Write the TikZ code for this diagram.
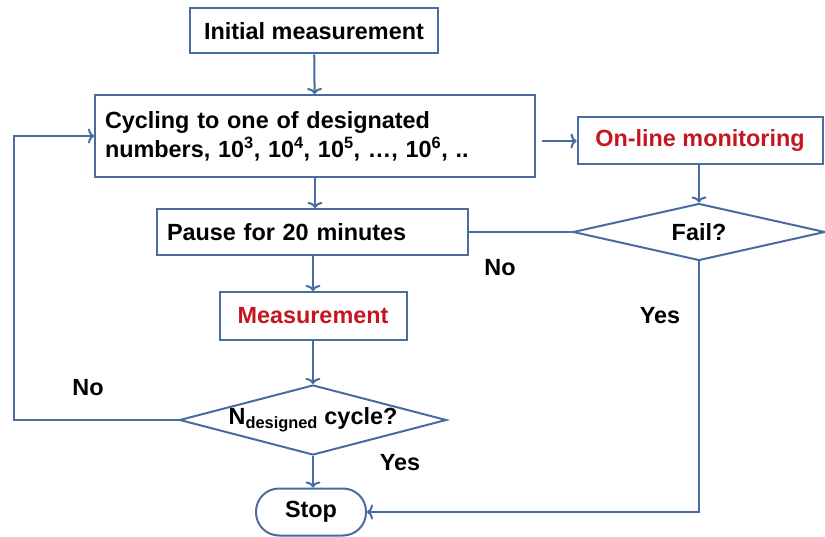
\documentclass[tikz,border=0pt]{standalone}
\usepackage{fontspec}
\setmainfont{Liberation Sans}
\usetikzlibrary{positioning}
\usetikzlibrary{shapes.geometric}
\usetikzlibrary{arrows.meta}
\definecolor{flowblue}{RGB}{72,108,160}
\definecolor{flowred}{RGB}{196,22,32}

\begin{document}
\begin{tikzpicture} [
        x=1pt, y=-1pt, line width=2pt,
        every node/.style={font=\fontsize{23.4}{29}\selectfont\bfseries},
        box/.style={draw=flowblue, rectangle, inner sep=0pt},
        decide/.style={draw=flowblue, diamond, inner sep=0pt, aspect=4},
        flow/.style={draw=flowblue, -{To[length=6pt,width=15pt]}},
        link/.style={draw=flowblue}
    ]
    \useasboundingbox (0,0) rectangle (825,537);
    % boxes
    \node[box, minimum width=248pt, minimum height=45pt] (init) at (314,31) {Initial measurement};
    \node[box, minimum width=440pt, minimum height=82pt, text width=420pt, align=left] (cyc) at (315,136)
        {Cycling to one of designated\\numbers, 10\textsuperscript{3}, 10\textsuperscript{4}, 10\textsuperscript{5}, \dots, 10\textsuperscript{6}, ..};
    \node[box, minimum width=245pt, minimum height=47pt, text=flowred] (online) at (700,141) {On-line monitoring};
    \node[box, minimum width=311pt, minimum height=46pt, text width=290pt, align=left] (pause) at (312,232) {Pause for 20 minutes};
    \node[decide, minimum width=252pt, minimum height=57pt] (fail) at (699,232) {\makebox[0pt]{Fail?}};
    \node[box, minimum width=187pt, minimum height=48pt, text=flowred] (meas) at (313,316) {Measurement};
    \node[decide, minimum width=267pt, minimum height=70pt] (ncyc) at (313,420)
        {\makebox[0pt]{N\textsubscript{designed} cycle?}};
    \node[box, rounded corners=23pt, minimum width=110pt, minimum height=47pt] (stop) at (311,512) {Stop};
    % labels
    \node (nofail) at (500,268) {No};
    \node (yesfail) at (660,316) {Yes};
    \node (nocyc) at (88,388) {No};
    \node (yescyc) at (400,463) {Yes};
    % connectors
    \coordinate (loop) at (14,420);
    \draw[flow] (init) -- (cyc);
    \draw[flow] (cyc.south) -- (cyc.south |- pause.north);
    \draw[flow] (pause.south -| meas.north) -- (meas);
    \draw[flow] (meas) -- (ncyc);
    \draw[flow] (ncyc.south) -- (ncyc.south |- stop.north);
    \draw[flow] (ncyc.west) -- (loop) |- (cyc.west);
    \draw[flow] ([xshift=6pt]cyc.east |- online.west) -- (online.west);
    \draw[flow] (online.south -| fail.north) -- (fail.north);
    \draw[link] (fail.west) -- (pause.east);
    \draw[flow] (fail.south) |- (stop.east);
\end{tikzpicture}
\end{document}
